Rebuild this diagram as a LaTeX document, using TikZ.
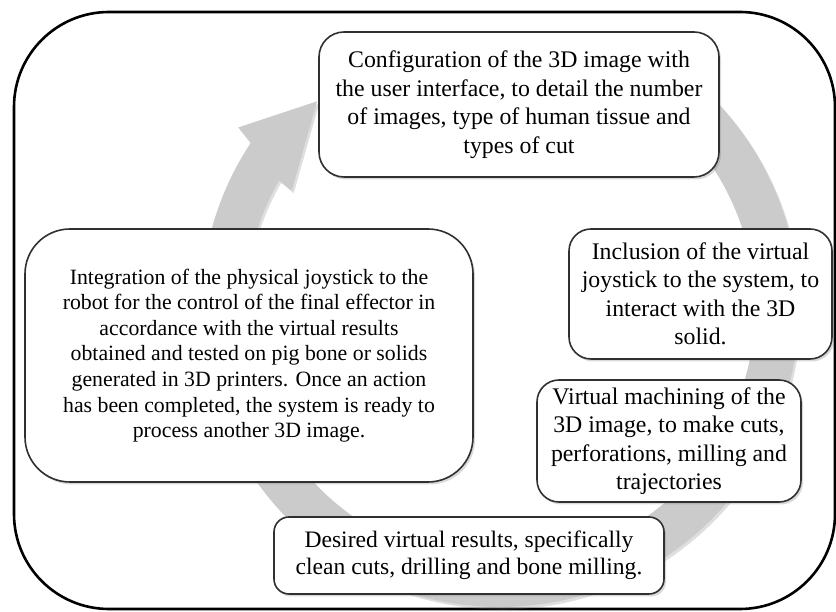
\documentclass[tikz,border=0pt]{standalone}
\usepackage{fontspec}
\setmainfont{Liberation Serif}
\usetikzlibrary{calc,shadows}
\definecolor{ringgray}{HTML}{CBCBCB}
\definecolor{edgegray}{HTML}{303030}
\tikzset{
  box/.style={draw=edgegray, line width=1.6pt, fill=white, align=center, inner sep=0pt,
    drop shadow={shadow xshift=2pt, shadow yshift=-2.5pt, opacity=0.3},
    font=\fontsize{23.8}{28.5}\selectfont},
  ring/.style={fill=ringgray, draw=none,
    drop shadow={shadow xshift=2pt, shadow yshift=-2.5pt, opacity=0.25}},
  frame/.style={draw=black, line width=2.6pt, rounded corners=95pt}
}
\begin{document}
\begin{tikzpicture}[x=1pt,y=1pt]
\useasboundingbox (0,0) rectangle (836,612);
\draw[frame] (14,3) rectangle (835,600);
\coordinate (C) at (500,304);
% cycle arrow
\path[ring] ($(C)+(57:299)$) arc[start angle=57, end angle=-213.5, radius=299]
  -- ($(C)+(145.4:318)$) -- ($(C)+(131.5:276)$) -- ($(C)+(150.6:239)$)
  -- ($(C)+(150:255)$) arc[start angle=-210, end angle=57, radius=255] -- cycle;
% boxes
\node[box, rounded corners=25pt, minimum width=400pt, minimum height=145pt] (top) at (519,507.5)
  {Configuration of the 3D image with\\the user interface, to detail the number\\of images, type of human tissue and\\types of cut};
\node[box, rounded corners=45pt, minimum width=448pt, minimum height=253pt,
  font=\fontsize{21.8}{25.6}\selectfont] (left) at (249,256.5)
  {Integration of the physical joystick to the\\robot for the control of the final effector in\\accordance with the virtual results\\obtained and tested on pig bone or solids\\generated in 3D printers. Once an action\\has been completed, the system is ready to\\process another 3D image.};
\node[box, rounded corners=22pt, minimum width=263pt, minimum height=130pt] (incl) at (700.5,318)
  {Inclusion of the virtual\\joystick to the system, to\\interact with the 3D\\solid.};
\node[box, rounded corners=22pt, minimum width=264pt, minimum height=122pt] (mach) at (669,171)
  {Virtual machining of the\\3D image, to make cuts,\\perforations, milling and\\trajectories};
\node[box, rounded corners=15pt, minimum width=390pt, minimum height=77pt,
  font=\fontsize{23.6}{27}\selectfont] (des) at (469,56.5)
  {Desired virtual results, specifically\\clean cuts, drilling and bone milling.};
\end{tikzpicture}
\end{document}
